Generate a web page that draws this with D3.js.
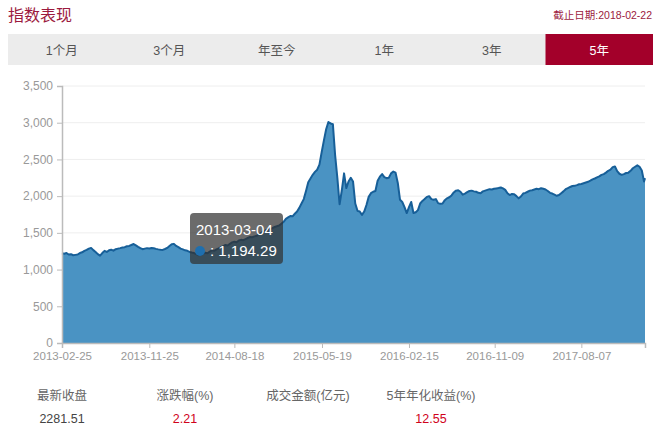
<!DOCTYPE html>
<html>
<head>
<meta charset="utf-8">
<script src="https://cdn.jsdelivr.net/npm/d3@7"></script>
<style>
  body { margin: 0; background: #fff; }
  svg text { font-family: "Liberation Sans", "Noto Sans CJK SC", sans-serif; }
</style>
</head>
<body>
<svg id="chart" width="657" height="438"></svg>
<script>
// weekly closes
startDate = "2013-02-25";
endDate = "2018-02-22";
closes = [
  1222,1215,1225,1205,1210,1195,1200,1205,1225,1235,
  1255,1268,1285,1295,1265,1240,1210,1190,1225,1255,
  1240,1262,1270,1258,1278,1285,1292,1300,1305,1318,
  1322,1335,1348,1330,1310,1292,1278,1285,1292,1288,
  1295,1290,1282,1275,1270,1268,1280,1295,1320,1345,
  1350,1322,1305,1285,1275,1262,1255,1240,1232,1225,
  1210,1195,1200,1215,1230,1222,1245,1262,1255,1275,
  1290,1305,1320,1335,1328,1350,1370,1380,1372,1395,
  1405,1400,1415,1430,1445,1440,1452,1460,1478,1500,
  1520,1535,1545,1552,1565,1580,1590,1600,1625,1650,
  1690,1710,1730,1725,1760,1790,1840,1900,1960,2070,
  2190,2240,2290,2330,2360,2430,2600,2760,2910,3010,
  2990,2980,2560,2250,1890,2080,2310,2110,2200,2250,
  2200,1900,1800,1790,1745,1790,1880,1990,2040,2060,
  2070,2210,2265,2300,2260,2245,2250,2310,2335,2320,
  2180,1950,1920,1850,1770,1850,1920,1770,1780,1810,
  1900,1935,1960,1990,2000,1960,1950,1960,1905,1895,
  1900,1945,1970,1985,2010,2050,2075,2080,2060,2020,
  2035,2055,2070,2075,2065,2060,2045,2040,2065,2075,
  2085,2095,2090,2100,2105,2110,2118,2105,2085,2040,
  2015,2030,2025,2000,1970,1995,2035,2045,2060,2075,
  2080,2090,2100,2095,2108,2100,2090,2070,2045,2035,
  2020,2005,2015,2040,2065,2095,2110,2125,2138,2140,
  2150,2162,2165,2175,2185,2195,2210,2228,2240,2255,
  2270,2290,2300,2320,2345,2360,2395,2405,2340,2305,
  2290,2300,2315,2320,2345,2380,2400,2420,2400,2350,
  2200
];
lastClose = 2245;

xTickLabels = ["2013-02-25","2013-11-25","2014-08-18","2015-05-19","2016-02-15","2016-11-09","2017-08-07"];
yTicks = [0,500,1000,1500,2000,2500,3000,3500];
tabs = ["1个月","3个月","年至今","1年","3年","5年"];
activeTab = "5年";
statLabels = ["最新收盘","涨跌幅(%)","成交金额(亿元)","5年年化收益(%)"];
statValues = ["2281.51","2.21","","12.55"];
tipDate = "2013-03-04";
tipValue = 1194.29;

parse = d3.timeParse("%Y-%m-%d");
t0 = parse(startDate);
data = closes.map((v, i) => ({date: d3.timeWeek.offset(t0, i), value: v}));
data.push({date: parse(endDate), value: lastClose});

svg = d3.select("#chart");
red = "#a3002a";

// header
svg.append("text").attr("x", 8).attr("y", 21)
  .attr("fill", "#9c1a3e").style("font-size", "16px")
  .style("font-family", "'Noto Sans CJK SC', sans-serif")
  .text("指数表现");
svg.append("text").attr("x", 652).attr("y", 19).attr("text-anchor", "end")
  .attr("fill", "#9c1a3e").style("font-size", "10.5px")
  .text("截止日期:" + endDate);

// tab bar
tabX = d3.scaleBand().domain(tabs).range([8, 653]);
svg.append("rect").attr("x", 8).attr("y", 34).attr("width", 645).attr("height", 31).attr("fill", "#ececec");
tabG = svg.append("g").selectAll("g").data(tabs).join("g")
  .attr("transform", d => `translate(${tabX(d)},34)`);
tabG.filter(d => d == activeTab).append("rect")
  .attr("width", tabX.bandwidth()).attr("height", 31).attr("fill", red);
tabG.append("text")
  .attr("x", tabX.bandwidth() / 2).attr("y", 20.5)
  .attr("text-anchor", "middle")
  .style("font-size", "12.5px")
  .attr("fill", d => d == activeTab ? "#fff" : "#555")
  .text(d => d);

// chart
x = d3.scaleTime().domain([parse(startDate), parse(endDate)]).range([62, 645]);
y = d3.scaleLinear().domain([0, 3500]).range([343, 86]);

svg.append("g").selectAll("line").data(yTicks.slice(1)).join("line")
  .attr("x1", 62).attr("x2", 645)
  .attr("y1", d => y(d)).attr("y2", d => y(d))
  .attr("stroke", "#eeeeee");

area = d3.area().x(d => x(d.date)).y0(y(0)).y1(d => y(d.value));
line = d3.line().x(d => x(d.date)).y(d => y(d.value));

svg.append("path").datum(data).attr("d", area).attr("fill", "#4a93c3");
svg.append("path").datum(data).attr("d", line)
  .attr("fill", "none").attr("stroke", "#175f98").attr("stroke-width", 2)
  .attr("stroke-linejoin", "round");

yAxis = svg.append("g").attr("transform", "translate(62,0)")
  .call(d3.axisLeft(y).tickValues(yTicks).tickFormat(d3.format(",")).tickSize(5).tickPadding(4));
xAxis = svg.append("g").attr("transform", "translate(0,343)")
  .call(d3.axisBottom(x).tickValues(xTickLabels.map(parse)).tickFormat(d3.timeFormat("%Y-%m-%d")).tickSize(5).tickPadding(4));
[yAxis, xAxis].forEach(g => {
  g.select(".domain").attr("stroke", "#bbbbbb").attr("stroke-width", 1.5);
  g.selectAll(".tick line").attr("stroke", "#bbbbbb");
  g.selectAll(".tick text").attr("fill", "#999").style("font-family", "'Liberation Sans', sans-serif");
});
yAxis.selectAll(".tick text").style("font-size", "12px");
xAxis.selectAll(".tick text").style("font-size", "11.5px");

// tooltip
tip = svg.append("g").attr("transform", "translate(190,213)");
tip.append("rect").attr("width", 93).attr("height", 51).attr("rx", 4)
  .attr("fill", "rgba(50,50,50,0.72)");
tip.append("text").attr("x", 6).attr("y", 22).attr("fill", "#fff")
  .style("font-size", "15px").text(tipDate);
tip.append("circle").attr("cx", 10).attr("cy", 38).attr("r", 5).attr("fill", "#1f6fae");
tip.append("text").attr("x", 20).attr("y", 43).attr("fill", "#fff")
  .style("font-size", "15px").text(": " + d3.format(",.2f")(tipValue));

// stats
statX = d3.scalePoint().domain(statLabels).range([62, 431]);
stats = svg.append("g").selectAll("g").data(statLabels).join("g")
  .attr("transform", d => `translate(${statX(d)},0)`);
stats.append("text").attr("y", 400).attr("text-anchor", "middle")
  .attr("fill", "#666").style("font-size", "12.5px")
  .text(d => d);
stats.append("text").attr("y", 423).attr("text-anchor", "middle")
  .attr("fill", (d, i) => i == 0 ? "#444" : "#d0021b").style("font-size", "12.5px")
  .text((d, i) => statValues[i]);
</script>
</body>
</html>
